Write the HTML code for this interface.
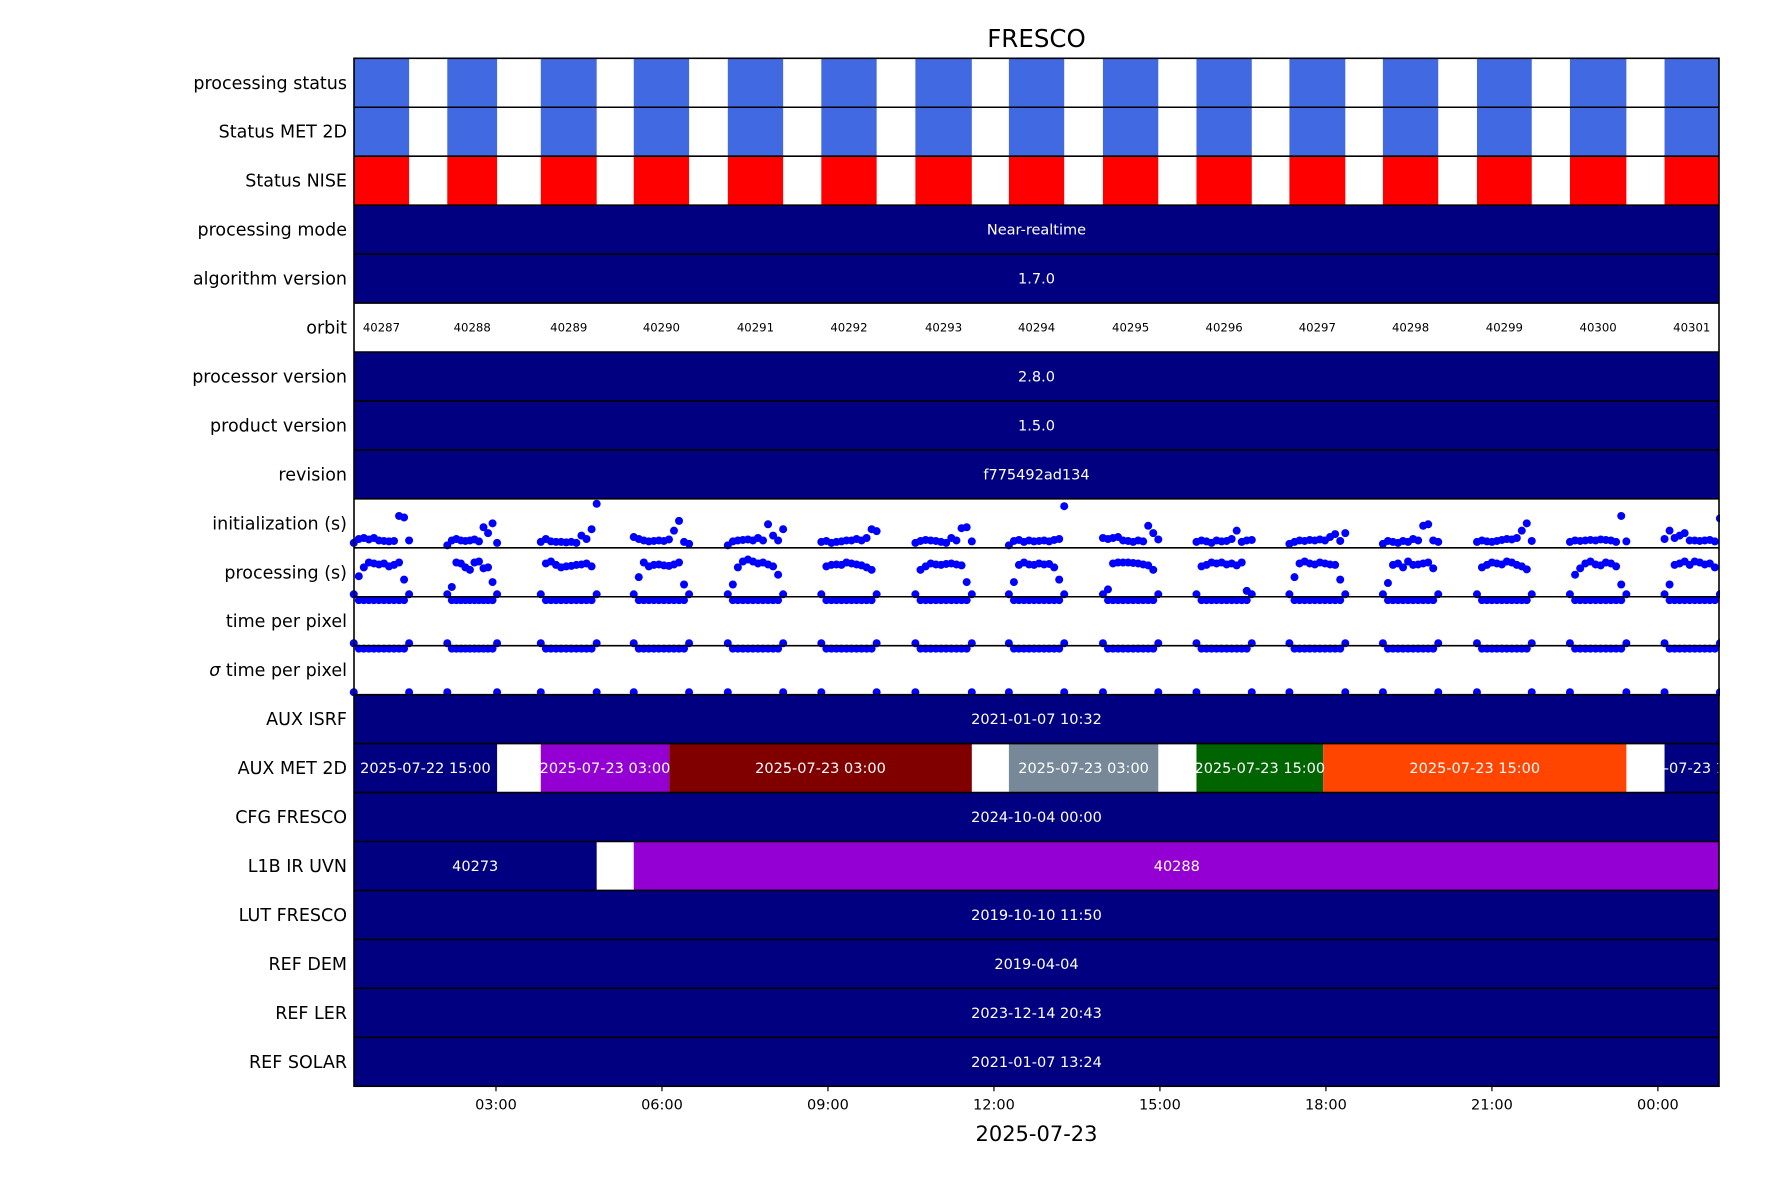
<!DOCTYPE html>
<html><head><meta charset="utf-8"><style>
html,body{margin:0;padding:0;background:#fff;}
svg{display:block;font-family:"DejaVu Sans","Liberation Sans",sans-serif;}
</style></head><body>
<svg id="chart" width="1771" height="1181" viewBox="0 0 1771 1181" xmlns="http://www.w3.org/2000/svg">
<text x="1036.5" y="47" font-size="24.5" text-anchor="middle" fill="#000">FRESCO</text>
<g id="rows"></g><g id="marks"></g><g id="grid"></g><g id="axis"></g>
<text x="1036.5" y="1141" font-size="21" text-anchor="middle" fill="#000">2025-07-23</text>
</svg>
<script>
// ---- data ----
const rowLabels = ["processing status","Status MET 2D","Status NISE","processing mode","algorithm version","orbit","processor version","product version","revision","initialization (s)","processing (s)","time per pixel","σ time per pixel","AUX ISRF","AUX MET 2D","CFG FRESCO","L1B IR UVN","LUT FRESCO","REF DEM","REF LER","REF SOLAR"];
const orbitNumbers = [40287,40288,40289,40290,40291,40292,40293,40294,40295,40296,40297,40298,40299,40300,40301];
const orbitStart = [0.43,2.12,3.81,5.49,7.19,8.88,10.58,12.27,13.97,15.66,17.34,19.03,20.73,22.41,24.12];
const orbitEnd   = [1.43,3.02,4.82,6.49,8.19,9.88,11.60,13.27,14.97,16.66,18.35,20.03,21.72,23.43,25.12];
const tickHours = [3,6,9,12,15,18,21,24];
const tickLabels = ["03:00","06:00","09:00","12:00","15:00","18:00","21:00","00:00"];
const constRows = {3:"Near-realtime",4:"1.7.0",6:"2.8.0",7:"1.5.0",8:"f775492ad134",13:"2021-01-07 10:32",15:"2024-10-04 00:00",17:"2019-10-10 11:50",18:"2019-04-04",19:"2023-12-14 20:43",20:"2021-01-07 13:24"};
const metStart = [0.43,3.81,6.13,12.27,15.66,17.95,24.12];
const metEnd   = [3.02,6.13,11.60,14.97,17.95,23.43,25.12];
const metLabel = ["2025-07-22 15:00","2025-07-23 03:00","2025-07-23 03:00","2025-07-23 03:00","2025-07-23 15:00","2025-07-23 15:00","2025-07-23 15:00"];
const metColor = ["#000080","#9400d3","#800000","#778899","#006400","#ff4500","#000080"];
const l1bStart = [0.43,5.49];
const l1bEnd = [4.82,25.12];
const l1bLabel = ["40273","40288"];
const l1bColor = ["#000080","#9400d3"];
const initVals = [
 [0.1,0.18,0.2,0.17,0.2,0.15,0.14,0.13,0.14,0.65,0.62,0.15],
 [0.05,0.15,0.18,0.15,0.14,0.15,0.17,0.13,0.42,0.3,0.5,0.1],
 [0.12,0.18,0.13,0.12,0.12,0.11,0.12,0.1,0.25,0.18,0.38,0.9],
 [0.22,0.18,0.15,0.13,0.14,0.15,0.14,0.17,0.35,0.55,0.12,0.08],
 [0.05,0.13,0.15,0.16,0.17,0.15,0.2,0.15,0.48,0.25,0.15,0.38],
 [0.12,0.14,0.1,0.12,0.13,0.15,0.15,0.18,0.15,0.2,0.38,0.34],
 [0.1,0.14,0.16,0.15,0.14,0.12,0.1,0.2,0.15,0.4,0.42,0.13],
 [0.05,0.14,0.16,0.12,0.15,0.13,0.14,0.15,0.13,0.16,0.18,0.85],
 [0.2,0.18,0.2,0.22,0.15,0.14,0.12,0.15,0.13,0.45,0.3,0.17],
 [0.12,0.15,0.13,0.1,0.15,0.13,0.14,0.18,0.35,0.12,0.15,0.16],
 [0.08,0.12,0.15,0.14,0.16,0.15,0.17,0.15,0.22,0.28,0.14,0.3],
 [0.08,0.14,0.12,0.1,0.14,0.12,0.18,0.15,0.45,0.48,0.15,0.12],
 [0.12,0.15,0.13,0.12,0.14,0.16,0.18,0.17,0.2,0.35,0.5,0.14],
 [0.12,0.15,0.14,0.15,0.16,0.15,0.17,0.16,0.15,0.12,0.65,0.13],
 [0.18,0.35,0.2,0.25,0.3,0.15,0.15,0.14,0.15,0.16,0.13,0.6]
];
const procVals = [
 [0.05,0.42,0.6,0.7,0.68,0.66,0.68,0.62,0.65,0.7,0.35,0.05],
 [0.05,0.2,0.7,0.68,0.6,0.55,0.7,0.72,0.58,0.6,0.3,0.05],
 [0.05,0.68,0.72,0.65,0.6,0.62,0.63,0.65,0.66,0.68,0.62,0.05],
 [0.05,0.4,0.7,0.62,0.65,0.66,0.64,0.63,0.66,0.7,0.25,0.05],
 [0.05,0.25,0.6,0.72,0.76,0.72,0.68,0.7,0.66,0.62,0.45,0.05],
 [0.05,0.62,0.65,0.66,0.65,0.7,0.68,0.66,0.64,0.6,0.55,0.05],
 [0.05,0.55,0.62,0.68,0.66,0.65,0.67,0.68,0.66,0.64,0.3,0.05],
 [0.05,0.3,0.65,0.7,0.66,0.65,0.68,0.66,0.67,0.6,0.35,0.05],
 [0.05,0.15,0.68,0.7,0.7,0.7,0.69,0.68,0.66,0.64,0.55,0.05],
 [0.05,0.62,0.65,0.7,0.68,0.7,0.66,0.68,0.64,0.7,0.12,0.05],
 [0.05,0.4,0.68,0.72,0.68,0.66,0.7,0.68,0.66,0.65,0.35,0.05],
 [0.05,0.28,0.65,0.68,0.6,0.72,0.65,0.66,0.68,0.7,0.58,0.05],
 [0.05,0.6,0.65,0.7,0.68,0.66,0.72,0.7,0.65,0.62,0.56,0.05],
 [0.05,0.45,0.58,0.68,0.72,0.66,0.64,0.7,0.68,0.62,0.25,0.05],
 [0.05,0.25,0.65,0.68,0.72,0.65,0.72,0.7,0.66,0.68,0.6,0.05]
];
const tppVals = [0.05,0.93,0.93,0.93,0.93,0.93,0.93,0.93,0.93,0.93,0.93,0.05];
const sigmaVals = [0.05,0.94,0.94,0.94,0.94,0.94,0.94,0.94,0.94,0.94,0.94,0.05];
// ---- layout ----
const L=354, R=1719, T=58.3, RH=48.95, H0=0.434, PXH=55.33;
const NS="http://www.w3.org/2000/svg";
function X(h){return L+(h-H0)*PXH;}
function rowTop(i){return T+i*RH;}
function Y(i,v){return rowTop(i)+RH-v*RH;}
function mk(tag,attrs,parent,txt){const e=document.createElementNS(NS,tag);for(const k in attrs)e.setAttribute(k,attrs[k]);if(txt!==undefined)e.textContent=txt;parent.appendChild(e);return e;}
const rows=document.getElementById('rows'), marks=document.getElementById('marks'), grid=document.getElementById('grid'), axis=document.getElementById('axis');
rowLabels.forEach((lab,i)=>{
  const t=mk('text',{x:L-7,y:rowTop(i)+RH/2+6,'font-size':17.5,'text-anchor':'end',fill:'#000'},axis);
  
  
  if(lab.startsWith('σ')){mk('tspan',{'font-style':'italic'},t,'σ');mk('tspan',{},t,lab.slice(1));}else t.textContent=lab;
});
for(const k in constRows){
  const i=+k;
  const r=mk('rect',{x:L,y:rowTop(i),width:R-L,height:RH,fill:'#000080'},rows);
  
  
  const t=mk('text',{x:(L+R)/2,y:rowTop(i)+RH/2+5,'font-size':14.5,'text-anchor':'middle',fill:'#fff'},rows,constRows[k]);
  
  
}
orbitStart.forEach((s,j)=>{
  const x0=X(s), x1=Math.min(X(orbitEnd[j]),R);
  [[0,'#4169e1'],[1,'#4169e1'],[2,'#ff0000']].forEach(([i,c])=>{
    const r=mk('rect',{x:x0,y:rowTop(i),width:x1-x0,height:RH,fill:c},rows);
    
    
  });
  const t=mk('text',{x:(x0+x1)/2,y:rowTop(5)+RH/2+4,'font-size':11.7,'text-anchor':'middle',fill:'#000'},rows,String(orbitNumbers[j]));
  
  
  const n=initVals[j].length;
  for(let p=0;p<n;p++){
    const h=s+(orbitEnd[j]-s)*p/(n-1);
    if(X(h)>R+1)continue;
    [[9,initVals[j][p]],[10,procVals[j][p]],[11,tppVals[p]],[12,sigmaVals[p]]].forEach(([i,v])=>{
      const c=mk('circle',{cx:X(h),cy:Y(i,v),r:4,fill:'#0000ff'},marks);
      
      
    });
  }
});
function segs(i,st,en,lab,col){
  st.forEach((s,j)=>{
    const x0=X(s), x1=Math.min(X(en[j]),R);
    const r=mk('rect',{x:x0,y:rowTop(i),width:x1-x0,height:RH,fill:col[j]},rows);
    
    
    const t=mk('text',{x:(X(s)+X(en[j]))/2,y:rowTop(i)+RH/2+5,'font-size':14.5,'text-anchor':'middle',fill:'#fff'},marks,lab[j]);
    
    
  });
}
segs(14,metStart,metEnd,metLabel,metColor);
segs(16,l1bStart,l1bEnd,l1bLabel,l1bColor);
const cov=mk('rect',{x:R+1,y:0,width:1771-R,height:1181,fill:'#fff'},grid);


for(let i=1;i<rowLabels.length;i++){
  const l=mk('line',{x1:L,x2:R,y1:rowTop(i),y2:rowTop(i),stroke:'#000','stroke-width':1.6},grid);
  
  
}
const fr=mk('rect',{x:L,y:T,width:R-L,height:RH*21,fill:'none',stroke:'#000','stroke-width':1.6},grid);


const B=T+RH*21;
tickHours.forEach((h,k)=>{
  const tk=mk('line',{x1:X(h),x2:X(h),y1:B,y2:B+5,stroke:'#000','stroke-width':1.2},axis);
  
  
  const t=mk('text',{x:X(h),y:B+23,'font-size':14.5,'text-anchor':'middle',fill:'#000'},axis,tickLabels[k]);
  
  
});
</script>
</body></html>
